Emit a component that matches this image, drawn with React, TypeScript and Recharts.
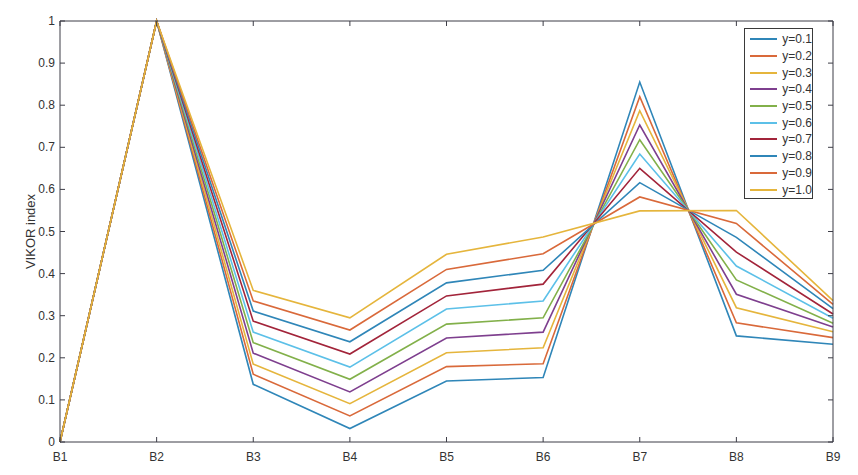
import { LineChart, Line, XAxis, YAxis, ReferenceLine } from 'recharts';

const categories = ['B1', 'B2', 'B3', 'B4', 'B5', 'B6', 'B7', 'B8', 'B9'];

// VIKOR index per alternative, one array per weight value
const y01 = [0, 1, 0.137, 0.032, 0.145, 0.153, 0.855, 0.252, 0.232];
const y02 = [0, 1, 0.161, 0.062, 0.179, 0.186, 0.82, 0.283, 0.248];
const y03 = [0, 1, 0.185, 0.091, 0.212, 0.224, 0.787, 0.319, 0.262];
const y04 = [0, 1, 0.211, 0.119, 0.247, 0.261, 0.753, 0.351, 0.273];
const y05 = [0, 1, 0.236, 0.149, 0.28, 0.295, 0.718, 0.385, 0.282];
const y06 = [0, 1, 0.261, 0.178, 0.316, 0.335, 0.684, 0.418, 0.294];
const y07 = [0, 1, 0.287, 0.209, 0.347, 0.375, 0.65, 0.451, 0.304];
const y08 = [0, 1, 0.311, 0.238, 0.378, 0.408, 0.616, 0.486, 0.317];
const y09 = [0, 1, 0.335, 0.266, 0.41, 0.447, 0.582, 0.519, 0.327];
const y10 = [0, 1, 0.36, 0.295, 0.446, 0.487, 0.549, 0.55, 0.336];

const seriesNames = ['y=0.1', 'y=0.2', 'y=0.3', 'y=0.4', 'y=0.5', 'y=0.6', 'y=0.7', 'y=0.8', 'y=0.9', 'y=1.0'];
const seriesValues = [y01, y02, y03, y04, y05, y06, y07, y08, y09, y10];
const yTicks = [0, 0.1, 0.2, 0.3, 0.4, 0.5, 0.6, 0.7, 0.8, 0.9, 1];

const colors = [
  '#2f86b8', '#d9693a', '#e5b53c', '#7e3f8e', '#82b04a',
  '#5cc0e8', '#a2243a', '#2f86b8', '#d9693a', '#e5b53c',
];

const data = categories.map((c, i) => {
  const row: Record<string, any> = { name: c };
  seriesNames.forEach((s, j) => {
    row['s' + j] = seriesValues[j][i];
  });
  return row;
});

const font = '"Liberation Sans", Arial, sans-serif';
const axisColor = '#3d3d47';
const textColor = '#333333';

// recharts passes tick positions offset by tickSize(6)+tickMargin(2)
const BottomTick = ({ x, y, payload }: any) => (
  <g>
    <path d={`M${x},${y - 8} v-5`} stroke={axisColor} strokeWidth={1} />
    <text x={x} y={y + 11} textAnchor="middle" fontSize={12} fontFamily={font} fill={textColor}>
      {payload.value}
    </text>
  </g>
);

const LeftTick = ({ x, y, payload }: any) => (
  <g>
    <path d={`M${x + 8},${y} h5`} stroke={axisColor} strokeWidth={1} />
    <text x={x + 3} y={y + 4} textAnchor="end" fontSize={12} fontFamily={font} fill={textColor}>
      {payload.value}
    </text>
  </g>
);

// inward ticks on the right and top edges
const RightTick = (p: any) => {
  const r = Math.max(p.x1, p.x2);
  return <path d={`M${r},${p.y1} h-5`} stroke={axisColor} strokeWidth={1} />;
};

const TopTick = (p: any) => {
  const t = Math.min(p.y1, p.y2);
  return <path d={`M${p.x1},${t} v5`} stroke={axisColor} strokeWidth={1} />;
};

const LegendBox = () => (
  <div
    style={{
      position: 'absolute',
      left: 744,
      top: 28,
      width: 69,
      height: 171,
      border: '1px solid #3a3a3a',
      background: '#fff',
      fontFamily: font,
      fontSize: 12,
      color: textColor,
      boxSizing: 'border-box',
      paddingTop: 2,
    }}
  >
    {seriesNames.map((s, i) => (
      <div key={s} style={{ display: 'flex', alignItems: 'center', height: 16.7 }}>
        <div style={{ marginLeft: 5, width: 30, height: 2, background: colors[i] }} />
        <span style={{ marginLeft: 5 }}>{s}</span>
      </div>
    ))}
  </div>
);

export default function App() {
  return (
    <div style={{ position: 'absolute', left: 0, top: 0, width: 858, height: 475, background: '#fff' }}>
      <LineChart
        width={858}
        height={475}
        data={data}
        margin={{ top: 21, right: 25, bottom: 0, left: 0 }}
      >
        <XAxis
          dataKey="name"
          height={33}
          padding={{ left: 0, right: 0 }}
          stroke={axisColor}
          tickLine={false}
          interval={0}
          tick={<BottomTick />}
        />
        <YAxis
          width={60}
          domain={[0, 1]}
          ticks={yTicks}
          interval={0}
          stroke={axisColor}
          tickLine={false}
          tick={<LeftTick />}
          label={{
            value: 'VIKOR index',
            angle: -90,
            position: 'center',
            fontSize: 13,
            fill: textColor,
            fontFamily: font,
          }}
        />
        {seriesNames.map((s, i) => (
          <Line
            key={s}
            dataKey={'s' + i}
            name={s}
            type="linear"
            stroke={colors[i]}
            strokeWidth={1.6}
            dot={false}
            isAnimationActive={false}
          />
        ))}
        {yTicks.map((t) => (
          <ReferenceLine key={'h' + t} y={t} shape={<RightTick />} />
        ))}
        {categories.map((c) => (
          <ReferenceLine key={'v' + c} x={c} shape={<TopTick />} />
        ))}
        <ReferenceLine y={1} stroke={axisColor} strokeWidth={1} />
        <ReferenceLine x="B9" stroke={axisColor} strokeWidth={1} />
      </LineChart>
      <LegendBox />
    </div>
  );
}
